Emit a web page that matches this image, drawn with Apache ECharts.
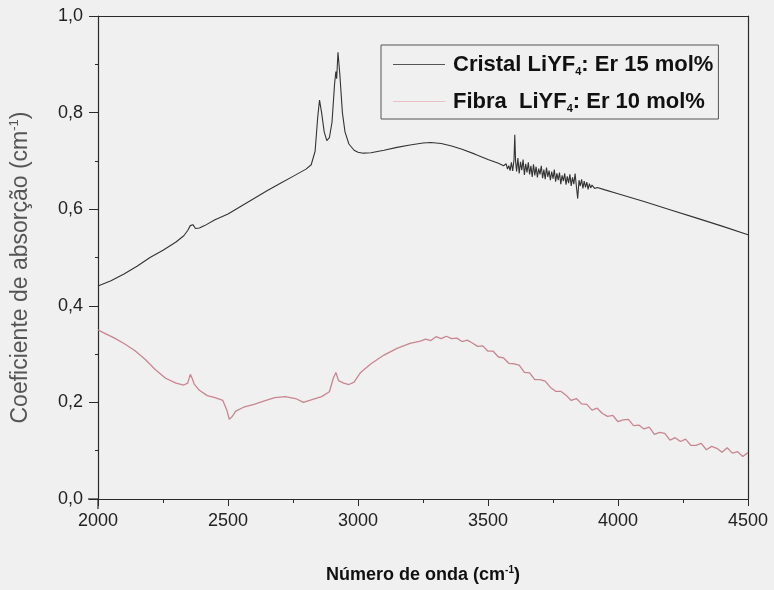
<!DOCTYPE html>
<html>
<head>
<meta charset="utf-8">
<script src="https://cdn.jsdelivr.net/npm/echarts@6/dist/echarts.min.js"></script>
<style>
html,body{margin:0;padding:0;background:#f0f0f0;}
#c{width:774px;height:590px;}
</style>
</head>
<body>
<div id="c"></div>
<script>
// Cristal LiYF4: Er 15 mol% (wavenumber, absorption)
var cristalX = [2000,2050,2100,2150,2200,2250,2300,2330,2345,2355,2365,2375,2390,2410,2450,2500,2550,2600,2650,2700,2750,2800,2820,2835,2845,2852,2860,2870,2880,2890,2900,2910,2915,2918,2923,2930,2940,2950,2965,2985,3000,3020,3050,3100,3150,3200,3250,3280,3320,3360,3400,3450,3500,3540,
3560,3565,3570,3575,3580,3585,3590,3595,3600,3603,3606,3610,3615,3620,3625,3630,3635,3640,3645,3650,3655,3660,3665,3670,3675,3680,3685,3690,3695,3700,3705,3710,3715,3720,3725,3730,3735,3740,3745,3750,3755,3760,3765,3770,3775,3780,3785,3790,3795,3800,3805,3810,3815,3820,3825,3830,3835,3840,3845,3850,3855,3860,3865,3870,3875,3880,3885,3890,3895,3900,3910,3920,
3950,4000,4100,4200,4300,4400,4500];
var cristalY = [0.441,0.452,0.466,0.482,0.500,0.515,0.532,0.545,0.556,0.566,0.568,0.560,0.561,0.566,0.578,0.590,0.606,0.622,0.638,0.653,0.668,0.683,0.692,0.720,0.790,0.826,0.800,0.760,0.742,0.748,0.780,0.860,0.885,0.870,0.925,0.880,0.800,0.760,0.735,0.722,0.718,0.716,0.717,0.722,0.728,0.733,0.737,0.738,0.736,0.731,0.724,0.714,0.703,0.695,
0.690,0.686,0.694,0.683,0.690,0.680,0.697,0.679,0.702,0.754,0.700,0.678,0.706,0.674,0.698,0.681,0.703,0.671,0.694,0.676,0.697,0.672,0.690,0.667,0.693,0.670,0.688,0.666,0.684,0.672,0.690,0.664,0.682,0.662,0.686,0.667,0.680,0.660,0.678,0.663,0.682,0.657,0.674,0.660,0.676,0.652,0.670,0.658,0.674,0.651,0.668,0.654,0.672,0.648,0.666,0.652,0.674,0.647,0.622,0.660,0.648,0.662,0.643,0.658,0.645,0.656,0.641,0.653,0.644,0.650,0.643,0.645,
0.640,0.632,0.616,0.599,0.582,0.565,0.547];

// Fibra LiYF4: Er 10 mol%
var fibraX = [2000,2030,2060,2100,2140,2180,2220,2260,2300,2330,2345,2355,2362,2370,2390,2420,2450,2480,2495,2505,2515,2530,2560,2600,2640,2680,2720,2760,2790,2820,2860,2890,2905,2915,2925,2945,2965,2985,3010,3050,3100,3150,3200,3240,
3260,3280,3300,3320,3340,3360,3380,3400,3420,3440,3460,3480,3500,3520,3540,3560,3580,3600,3620,3640,3660,3680,3700,3720,3740,3760,3780,3800,3820,3840,3860,3880,3900,3920,3940,3960,3980,4000,4020,4040,4060,4080,4100,4120,4140,4160,4180,4200,4220,4240,4260,4280,4300,4320,4340,4360,4380,4400,4420,4440,4460,4480,4500];
var fibraY = [0.350,0.342,0.334,0.322,0.308,0.290,0.268,0.250,0.240,0.236,0.240,0.258,0.250,0.238,0.225,0.214,0.210,0.204,0.185,0.165,0.170,0.182,0.190,0.196,0.203,0.210,0.212,0.208,0.200,0.205,0.212,0.222,0.250,0.262,0.245,0.240,0.237,0.242,0.262,0.280,0.298,0.312,0.322,0.327,
0.331,0.328,0.336,0.332,0.337,0.332,0.333,0.326,0.329,0.323,0.316,0.317,0.306,0.306,0.294,0.292,0.281,0.280,0.277,0.262,0.261,0.247,0.247,0.244,0.231,0.223,0.223,0.215,0.204,0.208,0.197,0.196,0.184,0.188,0.177,0.171,0.173,0.160,0.164,0.165,0.152,0.153,0.145,0.149,0.134,0.138,0.136,0.122,0.127,0.119,0.124,0.111,0.111,0.115,0.102,0.109,0.105,0.097,0.106,0.095,0.098,0.088,0.096];

var xTicks = [2000,2500,3000,3500,4000,4500];
var yTicks = [0.0,0.2,0.4,0.6,0.8,1.0];

function pairs(xs, ys){ return xs.map(function(x,i){return [x, ys[i]];}); }

var chart = echarts.init(document.getElementById('c'), null, {renderer:'canvas'});
var lineCol = '#2a2a2a';
var FF = 'Liberation Sans, Arial, sans-serif';
chart.setOption({
  backgroundColor:'#f0f0f0',
  animation:false,
  grid:{left:98, right:26, top:16, bottom:91},
  graphic:[
    {type:'line', shape:{x1:98, y1:499, x2:98, y2:509}, style:{stroke:lineCol, lineWidth:1.2}},
    {type:'line', shape:{x1:88, y1:499, x2:98, y2:499}, style:{stroke:lineCol, lineWidth:1.2}}
  ],
  legend:{
    orient:'vertical', left:381, top:45,
    borderColor:'#555', borderWidth:1, padding:[7,5,5,12],
    itemWidth:52, itemHeight:12, itemGap:12,
    icon:'path://M0,5 L52,5 L52,6 L0,6 Z',
    data:[{name:'Cristal', itemStyle:{color:'#555'}},{name:'Fibra', itemStyle:{color:'#e8c0c6'}}],
    formatter:function(n){
      if(n==='Cristal') return '{t|Cristal LiYF}{s|4}{t|: Er 15 mol%}';
      return '{t|Fibra  LiYF}{s|4}{t|: Er 10 mol%}';
    },
    textStyle:{
      padding:[0,0,0,3],
      rich:{
        t:{fontFamily:FF, fontWeight:'bold', fontSize:22, color:'#111', lineHeight:24},
        s:{fontFamily:FF, fontWeight:'bold', fontSize:11, color:'#111', padding:[14,0,0,0], lineHeight:24}
      }
    }
  },
  xAxis:[{
    type:'value', min:2000, max:4500, interval:500,
    name:'{a|Número de onda (cm}{s|-1}{a|)}',
    nameLocation:'middle', nameGap:66,
    nameTextStyle:{rich:{
      a:{fontFamily:FF, fontWeight:'bold', fontSize:18, color:'#111'},
      s:{fontFamily:FF, fontWeight:'bold', fontSize:10, color:'#111', padding:[0,0,11,0]}
    }},
    axisLine:{show:true, onZero:false, lineStyle:{color:lineCol, width:1.2}},
    axisTick:{show:true, inside:false, length:7, lineStyle:{color:lineCol}},
    minorTick:{show:true, splitNumber:2, length:4, lineStyle:{color:lineCol}},
    axisLabel:{fontFamily:FF, fontSize:18, color:'#222', margin:13,
      formatter:function(v){return xTicks.indexOf(v)>=0 ? String(v) : '';}},
    splitLine:{show:false}
  },{
    type:'value', position:'top', min:2000, max:4500,
    axisLine:{show:true, onZero:false, lineStyle:{color:lineCol, width:1.2}},
    axisTick:{show:false}, axisLabel:{show:false}, splitLine:{show:false}
  }],
  yAxis:[{
    type:'value', min:0, max:1.0, interval:0.2,
    name:'{a|Coeficiente de absorção (cm}{s|-1}{a|)}',
    nameLocation:'middle', nameGap:64, nameRotate:90,
    nameTextStyle:{padding:[0,20,0,0], rich:{
      a:{fontFamily:FF, fontSize:23, color:'#555'},
      s:{fontFamily:FF, fontSize:13, color:'#555', padding:[0,0,13,0]}
    }},
    axisLine:{show:true, onZero:false, lineStyle:{color:lineCol, width:1.2}},
    axisTick:{show:true, inside:false, length:9, lineStyle:{color:lineCol}},
    minorTick:{show:true, splitNumber:2, length:3, lineStyle:{color:lineCol}},
    axisLabel:{fontFamily:FF, fontSize:18, color:'#222', margin:15,
      formatter:function(v){
        var i = yTicks.findIndex(function(t){return Math.abs(t-v)<1e-9;});
        return i>=0 ? yTicks[i].toFixed(1).replace('.',',') : '';
      }},
    splitLine:{show:false}
  },{
    type:'value', position:'right', min:0, max:1.0,
    axisLine:{show:true, onZero:false, lineStyle:{color:lineCol, width:1.2}},
    axisTick:{show:false}, axisLabel:{show:false}, splitLine:{show:false}
  }],
  series:[{
    name:'Cristal', type:'line', showSymbol:false, symbol:'none',
    data:pairs(cristalX, cristalY),
    lineStyle:{color:'#333', width:1.1}, itemStyle:{color:'#333'}
  },{
    name:'Fibra', type:'line', showSymbol:false, symbol:'none',
    data:pairs(fibraX, fibraY),
    lineStyle:{color:'#c98590', width:1.3}, itemStyle:{color:'#c98590'}
  }]
});
</script>
</body>
</html>
